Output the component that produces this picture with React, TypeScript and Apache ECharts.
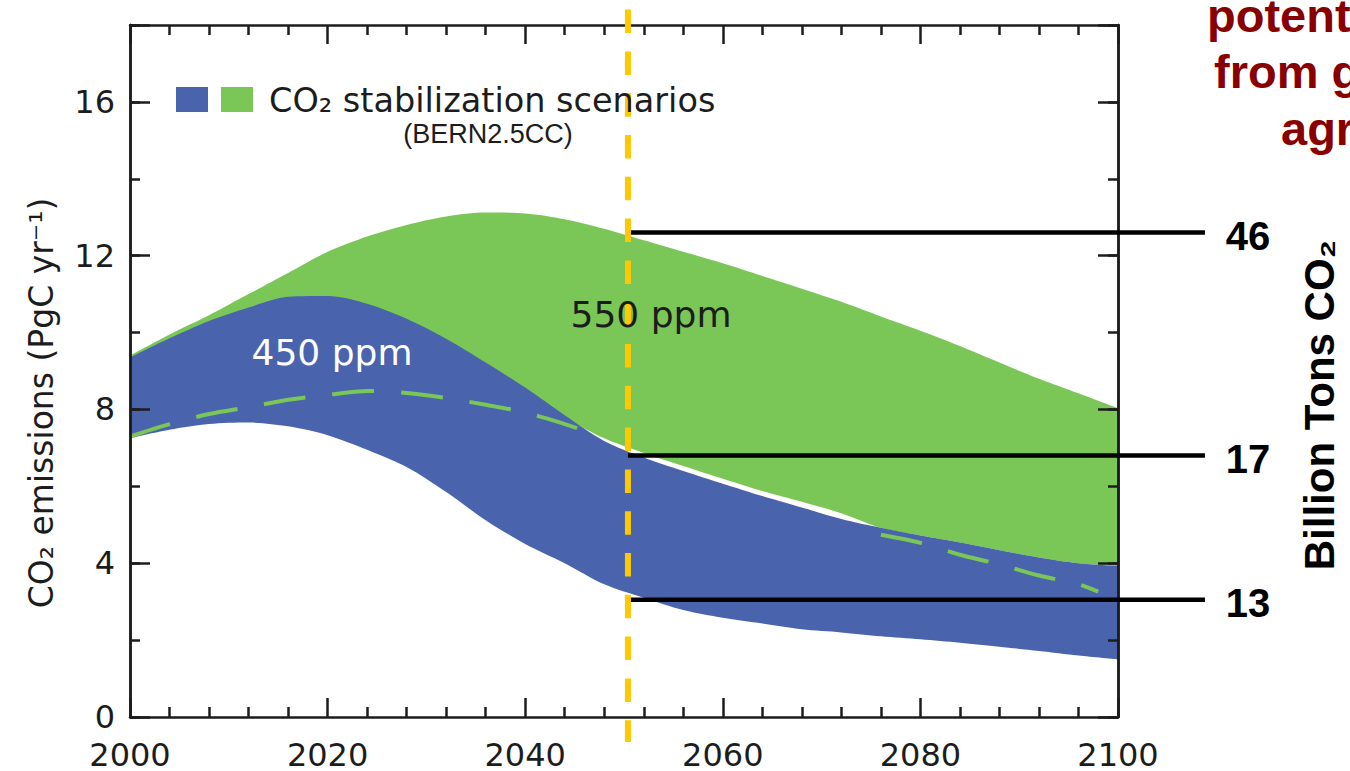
import React, { useEffect, useRef } from 'react';
import * as echarts from 'echarts';

// ---- data ----
const years = [2000, 2004, 2008, 2012, 2016, 2020, 2024, 2028, 2032, 2036, 2040, 2044, 2048, 2052, 2056, 2060, 2064, 2068, 2072, 2076, 2080, 2084, 2088, 2092, 2096, 2100];
const ppm550Upper = [9.4, 9.95, 10.45, 11.0, 11.55, 12.1, 12.5, 12.8, 13.02, 13.12, 13.1, 12.95, 12.7, 12.4, 12.1, 11.8, 11.47, 11.14, 10.8, 10.42, 10.05, 9.65, 9.22, 8.8, 8.42, 8.03];
const ppm550Lower = [9.3, 9.8, 10.25, 10.6, 10.88, 10.9, 10.7, 10.3, 9.8, 9.18, 8.5, 7.8, 7.25, 6.87, 6.53, 6.2, 5.88, 5.6, 5.3, 4.92, 4.72, 4.54, 4.34, 4.15, 4.0, 3.93];
const ppm450Upper = [9.35, 9.85, 10.3, 10.65, 10.93, 10.95, 10.75, 10.36, 9.84, 9.22, 8.57, 7.85, 7.18, 6.75, 6.4, 6.07, 5.75, 5.45, 5.15, 4.92, 4.72, 4.54, 4.34, 4.15, 4.0, 3.93];
const ppm450Lower = [7.25, 7.47, 7.62, 7.66, 7.56, 7.33, 6.95, 6.5, 5.85, 5.12, 4.5, 4.0, 3.45, 3.1, 2.78, 2.58, 2.43, 2.28, 2.2, 2.1, 2.02, 1.93, 1.83, 1.72, 1.6, 1.5];

const dashYearsA = [2000, 2004, 2008, 2012, 2016, 2020, 2024, 2028, 2032, 2036, 2040, 2044, 2046];
const dashValuesA = [7.3, 7.62, 7.88, 8.06, 8.25, 8.38, 8.48, 8.43, 8.3, 8.12, 7.92, 7.62, 7.45];
const dashYearsB = [2076, 2080, 2084, 2088, 2092, 2096, 2098];
const dashValuesB = [4.74, 4.53, 4.22, 3.97, 3.68, 3.45, 3.26];

const annotValues = [12.6, 6.8, 3.05];
const annotLabels = ['46', '17', '13'];
const ANNOT_START = 2050.4;
const ANNOT_END = 2108.8;
const ANNOT_LABEL = 2110.9;

const MARK_YEAR = 2050.4;
const MARK_TOP = 18.4;
const MARK_BOTTOM = -0.65;

const redLines = ['potential', 'from global', 'agriculture'];

// ---- styles ----
const BLUE = '#4963AD';
const GREEN = '#7AC656';
const INK = '#1c1c1c';
const FIG_FONT = '"DejaVu Sans", sans-serif';
const SLIDE_FONT = '"Liberation Sans", Arial, sans-serif';

const pairs = (xs: number[], ys: number[]) => xs.map((x, i) => [x, ys[i]]);

function xAxisDef(position: 'top' | 'bottom', labels: boolean) {
  return {
    type: 'value', min: 2000, max: 2100, interval: 20, position, z: 10,
    axisLine: { show: true, onZero: false, lineStyle: { color: INK, width: 2.5 } },
    axisTick: { show: true, inside: true, length: 19, lineStyle: { color: INK, width: 2.5 } },
    minorTick: { show: true, splitNumber: 5, length: 10, lineStyle: { color: INK, width: 2.5 } },
    splitLine: { show: false },
    axisLabel: {
      show: labels, color: INK, fontSize: 32, lineHeight: 28, fontFamily: FIG_FONT, margin: 24,
      formatter: (v: number) => String(v),
    },
  };
}

function yAxisDef(position: 'left' | 'right', interval: number, tickLen: number, labels: boolean) {
  return {
    type: 'value', min: 0, max: 18, interval, position, z: 10,
    axisLine: { show: true, onZero: false, lineStyle: { color: INK, width: 2.5 } },
    axisTick: { show: true, inside: true, length: tickLen, lineStyle: { color: INK, width: 2.5 } },
    splitLine: { show: false },
    axisLabel: {
      show: labels, color: INK, fontSize: 32, fontFamily: FIG_FONT, margin: 15,
      formatter: (v: number) => (v <= 16 && v % 4 === 0 ? String(v) : ''),
    },
  };
}

// filled area down to the axis; bands are built by painting the upper bound,
// then the lower bound in white, in drawing order
function area(name: string, values: number[], color: string) {
  return {
    type: 'line', name, showSymbol: false, symbol: 'none', smooth: 0.3, silent: true,
    data: pairs(years, values),
    lineStyle: { width: 0, opacity: 0 },
    areaStyle: { color, opacity: 1, origin: 'start' },
  };
}

const txt = (extra: any) => ({
  align: 'left', textAlign: 'left', verticalAlign: 'middle', textVerticalAlign: 'middle', ...extra,
});

export default function App() {
  const ref = useRef<HTMLDivElement>(null);
  useEffect(() => {
    if (!ref.current) return;
    const chart = echarts.init(ref.current, null, { renderer: 'svg' });
    chart.setOption({
      animation: false,
      backgroundColor: '#ffffff',
      grid: { left: 130, right: 232, top: 25, bottom: 53, containLabel: false },
      xAxis: [xAxisDef('bottom', true), xAxisDef('top', false)],
      yAxis: [
        yAxisDef('left', 4, 20, true),
        yAxisDef('left', 2, 10, false),
        yAxisDef('right', 4, 20, false),
        yAxisDef('right', 2, 10, false),
      ],
      series: [
        area('550 ppm', ppm550Upper, GREEN),
        area('550 ppm lower', ppm550Lower, '#ffffff'),
        area('450 ppm', ppm450Upper, BLUE),
        area('450 ppm lower', ppm450Lower, '#ffffff'),
        {
          type: 'line', showSymbol: false, symbol: 'none', smooth: 0.3, data: pairs(dashYearsA, dashValuesA),
          lineStyle: { color: GREEN, width: 4, type: [42, 27] }, silent: true,
        },
        {
          type: 'line', showSymbol: false, symbol: 'none', smooth: 0.3, data: pairs(dashYearsB, dashValuesB),
          lineStyle: { color: GREEN, width: 4, type: [42, 27] }, silent: true,
        },
        {
          type: 'custom', clip: false, silent: true, z: 20,
          data: annotValues.map((v, i) => [ANNOT_START, v, i]),
          encode: { x: 0, y: 1 },
          renderItem: (_p: any, api: any) => {
            const v = api.value(1);
            const idx = api.value(2);
            const p0 = api.coord([api.value(0), v]);
            const p1 = api.coord([ANNOT_END, v]);
            const pl = api.coord([ANNOT_LABEL, v]);
            return {
              type: 'group',
              children: [
                { type: 'line', shape: { x1: p0[0], y1: p0[1], x2: p1[0], y2: p1[1] }, style: { stroke: '#000', lineWidth: 4.5 } },
                {
                  type: 'text', x: pl[0], y: pl[1] + 3,
                  style: txt({ text: annotLabels[idx], fill: '#000', fontSize: 40, fontWeight: 'bold', fontFamily: SLIDE_FONT }),
                },
              ],
            };
          },
        },
        {
          type: 'custom', clip: false, silent: true, z: 21,
          data: [[MARK_YEAR, MARK_TOP, MARK_BOTTOM]],
          encode: { x: 0, y: 1 },
          renderItem: (_p: any, api: any) => {
            const a = api.coord([api.value(0), api.value(1)]);
            const b = api.coord([api.value(0), api.value(2)]);
            return {
              type: 'line', shape: { x1: a[0], y1: a[1], x2: b[0], y2: b[1] },
              style: { stroke: '#FFC800', lineWidth: 6, lineDash: [23.5, 18.3] },
            };
          },
        },
      ],
      graphic: [
        { type: 'rect', z: 100, shape: { x: 176, y: 87, width: 32, height: 25 }, style: { fill: BLUE } },
        { type: 'rect', z: 100, shape: { x: 221, y: 87, width: 32, height: 25 }, style: { fill: GREEN } },
        {
          type: 'text', z: 100, x: 269, y: 100,
          style: txt({ text: 'CO₂ stabilization scenarios', fill: INK, fontSize: 33.5, fontFamily: FIG_FONT }),
        },
        {
          type: 'text', z: 100, x: 488, y: 134,
          style: txt({ text: '(BERN2.5CC)', fill: INK, fontSize: 27, fontFamily: SLIDE_FONT, align: 'center', textAlign: 'center' }),
        },
        {
          type: 'text', z: 100, x: 332, y: 352,
          style: txt({ text: '450 ppm', fill: '#ffffff', fontSize: 36, fontFamily: FIG_FONT, align: 'center', textAlign: 'center' }),
        },
        {
          type: 'text', z: 100, x: 651, y: 314,
          style: txt({ text: '550 ppm', fill: INK, fontSize: 36, fontFamily: FIG_FONT, align: 'center', textAlign: 'center' }),
        },
        {
          type: 'text', z: 100, x: 41, y: 403, rotation: Math.PI / 2,
          style: txt({ text: 'CO₂ emissions (PgC yr⁻¹)', fill: INK, fontSize: 33, fontFamily: FIG_FONT, align: 'center', textAlign: 'center' }),
        },
        {
          type: 'text', z: 100, x: 1319, y: 405, rotation: Math.PI / 2,
          style: txt({ text: 'Billion Tons CO₂', fill: '#000', fontSize: 42, fontWeight: 'bold', fontFamily: SLIDE_FONT, align: 'center', textAlign: 'center' }),
        },
        ...redLines.map((t, i) => ({
          type: 'text', z: 100, x: [1207, 1214, 1281][i], y: [15, 71, 128][i],
          style: txt({ text: t, fill: '#880000', fontSize: 47, fontWeight: 'bold', fontFamily: SLIDE_FONT }),
        })),
      ],
    });
    return () => chart.dispose();
  }, []);
  return (
    <div
      ref={ref}
      style={{ position: 'fixed', left: 0, top: 0, width: 1350, height: 771, overflow: 'hidden', background: '#fff' }}
    />
  );
}
